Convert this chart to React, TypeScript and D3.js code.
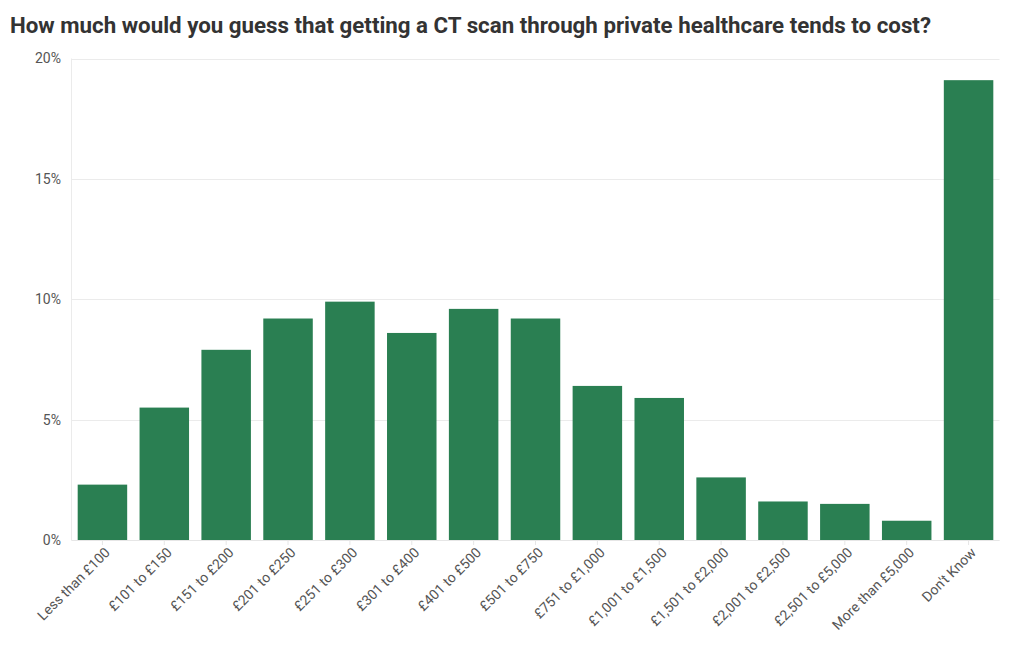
import React from "react";
import * as d3 from "d3";

const title = "How much would you guess that getting a CT scan through private healthcare tends to cost?";
const categories = [
  "Less than £100",
  "£101 to £150",
  "£151 to £200",
  "£201 to £250",
  "£251 to £300",
  "£301 to £400",
  "£401 to £500",
  "£501 to £750",
  "£751 to £1,000",
  "£1,001 to £1,500",
  "£1,501 to £2,000",
  "£2,001 to £2,500",
  "£2,501 to £5,000",
  "More than £5,000",
  "Don't Know",
];
const values = [2.3, 5.5, 7.9, 9.2, 9.9, 8.6, 9.6, 9.2, 6.4, 5.9, 2.6, 1.6, 1.5, 0.8, 19.1];
const yTicks = [0, 5, 10, 15, 20];

const W = 1020;
const H = 650;
const left = 71.5;
const right = 999.5;
const top = 58.5;
const bottom = 540;
const FONT = "Roboto, 'Noto Sans', sans-serif";

export default function App() {
  const x = d3.scaleBand<string>().domain(categories).range([left, right]).paddingInner(0.2).paddingOuter(0.1);
  const y = d3.scaleLinear().domain([0, 20]).range([bottom, top]);

  return (
    <svg width={W} height={H} style={{ position: "absolute", left: 0, top: 0, background: "#fff" }} fontFamily={FONT}>
      <text x={10} y={33} fontSize={22.3} fontWeight={700} fill="#333">
        {title}
      </text>
      {yTicks.map((t) => (
        <g key={t}>
          <line x1={left} x2={right} y1={Math.round(y(t)) + 0.5} y2={Math.round(y(t)) + 0.5} stroke="#ebebeb" strokeWidth={1} />
          <text x={61} y={y(t)} dy="0.35em" textAnchor="end" fontSize={14} fill="#555">
            {t}%
          </text>
        </g>
      ))}
      <line x1={left} x2={left} y1={top} y2={bottom} stroke="#ebebeb" />
      {categories.map((c, i) => {
        const cx = (x(c) as number) + x.bandwidth() / 2;
        return (
          <g key={c}>
            <rect x={x(c)} y={y(values[i])} width={x.bandwidth()} height={bottom - y(values[i])} fill="#2a7f52" />
            <line x1={cx} x2={cx} y1={bottom} y2={bottom + 5} stroke="#e6e6e6" />
            <text
              transform={`translate(${cx + 5},${bottom + 10}) rotate(-45)`}
              textAnchor="end"
              dy="0.35em"
              fontSize={14}
              fill="#555"
            >
              {c}
            </text>
          </g>
        );
      })}
      <line x1={left} x2={right} y1={bottom + 0.5} y2={bottom + 0.5} stroke="#e6e6e6" />
    </svg>
  );
}
